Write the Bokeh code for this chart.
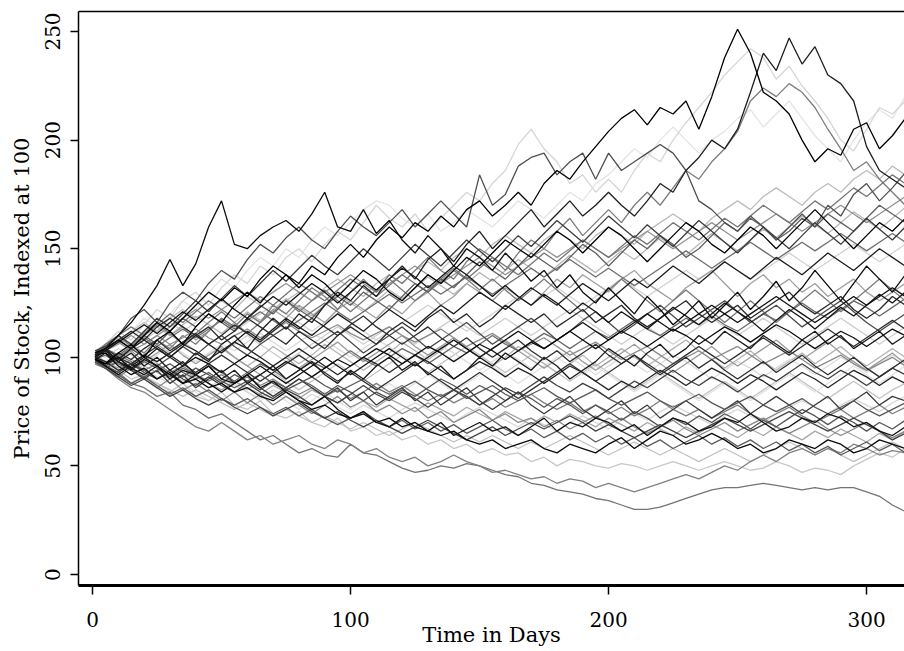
from bokeh.plotting import figure
from bokeh.models import ColumnDataSource, LinearAxis, FixedTicker, Range1d
from bokeh.embed import file_html
from bokeh.resources import INLINE

DAYS = [1] + list(range(5, 320, 5))

X_TICKS = [0, 100, 200, 300]
Y_TICKS = [0, 50, 100, 150, 200, 250]
X_TITLE = "Time in Days"
Y_TITLE = "Price of Stock, Indexed at 100"

# ---- central mass of paths ----
m01 = [101, 104, 98, 102, 96, 100, 94, 98, 92, 96, 90, 94, 88, 92, 96, 90,
       94, 98, 92, 88, 94, 90, 96, 100, 94, 98, 92, 96, 90, 94, 100, 96,
       102, 98, 94, 100, 96, 90, 94, 98, 104, 100, 96, 102, 106, 100, 104, 110,
       106, 112, 108, 104, 110, 106, 102, 108, 112, 106, 110, 104, 108, 112, 106, 110]
m02 = [102, 106, 110, 106, 112, 116, 110, 114, 108, 112, 118, 114, 120, 116, 122, 118,
       124, 120, 116, 122, 126, 122, 118, 124, 120, 126, 130, 124, 128, 134, 130, 126,
       132, 128, 124, 130, 136, 132, 138, 134, 130, 136, 140, 134, 130, 126, 132, 136,
       140, 134, 128, 134, 138, 132, 136, 130, 134, 128, 132, 136, 130, 126, 130, 134]
m03 = [99, 96, 100, 94, 90, 94, 88, 92, 86, 90, 94, 88, 92, 86, 82, 86,
       90, 86, 82, 86, 80, 84, 78, 82, 86, 80, 84, 78, 82, 86, 80, 76,
       80, 84, 78, 74, 78, 82, 76, 72, 76, 80, 74, 78, 72, 76, 80, 76,
       72, 76, 80, 74, 78, 82, 78, 74, 78, 82, 76, 80, 84, 78, 82, 80]
m04 = [101, 103, 108, 104, 110, 106, 112, 118, 114, 120, 116, 112, 118, 124, 120, 126,
       122, 118, 124, 128, 124, 130, 126, 122, 128, 134, 130, 136, 132, 138, 144, 140,
       136, 142, 148, 144, 140, 146, 152, 148, 142, 148, 154, 150, 156, 152, 146, 150,
       156, 162, 158, 164, 160, 154, 158, 164, 160, 166, 162, 158, 164, 170, 166, 162]
m05 = [98, 97, 93, 97, 101, 97, 93, 89, 93, 97, 93, 89, 85, 89, 93, 89,
       85, 89, 93, 97, 93, 89, 93, 97, 101, 97, 93, 97, 101, 105, 101, 97,
       93, 97, 101, 97, 93, 89, 93, 97, 93, 89, 85, 89, 93, 89, 85, 81,
       85, 89, 85, 81, 85, 89, 93, 89, 85, 81, 85, 89, 85, 81, 85, 88]
m06 = [100, 104, 108, 112, 108, 114, 118, 114, 110, 114, 108, 112, 118, 114, 110, 106,
       112, 108, 104, 110, 114, 110, 106, 112, 116, 112, 118, 122, 116, 120, 114, 118,
       124, 120, 116, 120, 114, 118, 122, 116, 120, 124, 118, 114, 118, 122, 126, 120,
       116, 120, 124, 118, 122, 126, 130, 124, 120, 124, 128, 122, 118, 122, 128, 124]
m07 = [97, 95, 91, 95, 90, 86, 90, 85, 88, 84, 80, 84, 79, 83, 78, 82,
       78, 74, 78, 82, 77, 80, 75, 78, 74, 77, 72, 75, 70, 73, 76, 71,
       74, 70, 72, 68, 71, 67, 70, 73, 69, 72, 68, 65, 68, 71, 67, 64,
       67, 70, 66, 69, 72, 68, 65, 68, 71, 67, 64, 67, 70, 66, 63, 66]
m08 = [100, 103, 99, 104, 100, 96, 100, 105, 101, 106, 110, 105, 101, 106, 110, 114,
       109, 104, 108, 112, 107, 102, 106, 110, 114, 109, 104, 108, 112, 116, 111, 106,
       110, 114, 118, 113, 108, 112, 117, 121, 116, 111, 115, 120, 124, 119, 114, 118,
       122, 126, 121, 116, 120, 124, 119, 114, 118, 122, 126, 121, 116, 112, 116, 120]
m09 = [102, 104, 100, 105, 110, 106, 102, 107, 103, 99, 104, 100, 96, 100, 105, 101,
       97, 101, 106, 102, 98, 94, 98, 102, 107, 103, 99, 103, 108, 104, 100, 96,
       100, 105, 101, 97, 93, 97, 101, 96, 100, 104, 100, 96, 100, 104, 108, 103,
       99, 95, 99, 103, 98, 94, 98, 102, 97, 101, 105, 100, 96, 100, 104, 100]
m10 = [99, 96, 92, 96, 100, 96, 92, 88, 92, 88, 84, 88, 92, 96, 92, 88,
       92, 96, 100, 96, 92, 96, 100, 104, 100, 96, 100, 104, 108, 104, 100, 104,
       108, 112, 108, 104, 108, 112, 116, 112, 108, 112, 116, 120, 116, 112, 116, 120,
       124, 120, 116, 120, 124, 128, 124, 120, 116, 120, 124, 128, 124, 128, 132, 128]
m11 = [103, 104, 108, 104, 108, 112, 116, 112, 116, 120, 116, 112, 116, 120, 124, 120,
       116, 112, 116, 120, 116, 112, 108, 112, 116, 120, 124, 120, 116, 112, 116, 120,
       124, 128, 124, 128, 132, 128, 124, 128, 132, 136, 132, 128, 132, 136, 140, 136,
       140, 144, 140, 136, 140, 144, 148, 144, 140, 144, 148, 152, 148, 144, 148, 152]
m12 = [98, 96, 93, 97, 94, 90, 94, 91, 95, 92, 88, 92, 89, 85, 89, 86,
       90, 87, 83, 87, 84, 80, 84, 81, 85, 82, 86, 90, 87, 83, 87, 84,
       80, 84, 81, 77, 81, 78, 74, 78, 75, 71, 75, 72, 68, 72, 69, 73,
       70, 74, 71, 67, 71, 68, 72, 76, 73, 69, 73, 70, 66, 70, 67, 71]
m13 = [101, 105, 110, 105, 111, 116, 111, 106, 111, 116, 121, 116, 111, 116, 121, 126,
       121, 126, 131, 126, 121, 126, 131, 136, 131, 126, 131, 136, 141, 136, 131, 136,
       131, 126, 131, 136, 131, 126, 121, 126, 131, 136, 131, 126, 121, 126, 131, 126,
       121, 116, 121, 126, 121, 116, 121, 126, 131, 126, 121, 126, 131, 136, 131, 126]
m14 = [99, 96, 92, 88, 92, 88, 84, 88, 84, 80, 84, 88, 84, 80, 84, 80,
       76, 80, 84, 80, 76, 80, 84, 88, 84, 88, 92, 88, 84, 88, 92, 96,
       92, 88, 92, 96, 100, 96, 92, 96, 92, 88, 84, 88, 92, 88, 84, 80,
       84, 88, 84, 80, 84, 88, 92, 88, 84, 88, 92, 96, 92, 88, 92, 96]
m15 = [100, 104, 100, 97, 101, 105, 101, 97, 93, 97, 101, 97, 93, 89, 93, 97,
       101, 97, 93, 89, 93, 89, 85, 89, 93, 97, 93, 89, 85, 89, 93, 89,
       85, 81, 85, 89, 93, 97, 93, 89, 93, 97, 101, 97, 93, 97, 101, 105,
       101, 97, 101, 105, 109, 105, 101, 105, 109, 113, 109, 105, 109, 113, 117, 113]
m16 = [102, 103, 106, 110, 106, 110, 114, 118, 122, 118, 122, 126, 130, 126, 130, 134,
       130, 126, 130, 134, 138, 134, 130, 134, 138, 142, 138, 134, 138, 142, 146, 142,
       138, 142, 146, 150, 146, 150, 154, 150, 146, 150, 154, 158, 154, 150, 154, 158,
       162, 158, 154, 158, 162, 166, 162, 158, 162, 166, 170, 166, 162, 166, 170, 174]
m17 = [98, 96, 92, 88, 91, 87, 83, 86, 82, 85, 81, 78, 81, 77, 74, 77,
       73, 76, 72, 69, 72, 75, 71, 68, 71, 67, 70, 66, 69, 65, 68, 71,
       67, 64, 67, 63, 66, 62, 65, 61, 64, 60, 63, 59, 62, 58, 61, 64,
       60, 63, 59, 62, 58, 61, 57, 60, 56, 59, 55, 58, 61, 57, 60, 56]
m18 = [101, 104, 108, 112, 116, 112, 118, 122, 118, 122, 126, 122, 128, 124, 120, 126,
       130, 126, 132, 136, 132, 128, 134, 138, 134, 140, 144, 140, 146, 150, 146, 152,
       156, 152, 148, 154, 158, 154, 150, 156, 160, 156, 152, 158, 162, 166, 162, 158,
       164, 168, 172, 168, 174, 178, 174, 170, 176, 180, 176, 182, 186, 182, 188, 184]
m19 = [100, 98, 94, 97, 101, 98, 102, 106, 103, 99, 103, 107, 104, 100, 96, 100,
       104, 100, 96, 92, 96, 100, 97, 93, 97, 101, 98, 94, 90, 94, 98, 95,
       91, 95, 92, 88, 92, 96, 93, 89, 85, 89, 86, 90, 94, 91, 87, 91,
       95, 92, 88, 92, 89, 85, 89, 93, 90, 86, 90, 94, 91, 87, 91, 88]
m20 = [99, 104, 101, 105, 109, 105, 109, 113, 109, 113, 117, 113, 117, 121, 117, 113,
       117, 121, 125, 121, 117, 121, 125, 129, 125, 129, 133, 129, 133, 137, 133, 129,
       133, 137, 141, 137, 141, 145, 141, 137, 141, 137, 133, 137, 141, 145, 149, 145,
       141, 145, 149, 153, 149, 145, 149, 153, 149, 153, 157, 153, 149, 153, 157, 153]
m21 = [97, 97, 94, 98, 95, 91, 88, 92, 89, 86, 90, 87, 84, 81, 85, 82,
       79, 83, 80, 77, 74, 78, 75, 72, 76, 79, 76, 73, 70, 74, 77, 74,
       71, 68, 72, 69, 66, 70, 73, 70, 67, 71, 74, 71, 75, 78, 75, 72,
       69, 73, 76, 73, 70, 74, 77, 80, 77, 74, 78, 81, 78, 75, 79, 82]
m22 = [103, 105, 110, 106, 112, 118, 114, 120, 126, 121, 127, 133, 128, 134, 140, 135,
       141, 147, 142, 138, 144, 150, 145, 140, 146, 152, 147, 142, 148, 154, 149, 144,
       150, 156, 151, 157, 163, 158, 153, 159, 165, 160, 155, 161, 156, 151, 157, 163,
       158, 153, 148, 154, 160, 155, 150, 156, 162, 157, 152, 158, 164, 159, 154, 160]
m23 = [98, 95, 99, 103, 98, 102, 106, 101, 97, 101, 105, 100, 96, 92, 96, 100,
       95, 99, 103, 107, 102, 98, 102, 106, 110, 105, 101, 105, 109, 104, 100, 104,
       108, 103, 99, 95, 99, 103, 98, 94, 98, 102, 106, 101, 97, 93, 97, 101,
       105, 100, 96, 100, 104, 108, 103, 99, 103, 107, 102, 98, 94, 98, 102, 97]
m24 = [101, 103, 107, 111, 115, 111, 116, 121, 117, 122, 127, 122, 118, 123, 128, 124,
       129, 134, 130, 125, 130, 135, 131, 136, 141, 137, 132, 137, 142, 138, 133, 128,
       133, 128, 124, 129, 125, 120, 125, 121, 116, 121, 117, 113, 118, 123, 119, 115,
       120, 125, 121, 117, 112, 117, 122, 118, 113, 118, 123, 119, 124, 129, 125, 130]
m25 = [99, 97, 101, 98, 94, 97, 93, 96, 92, 89, 92, 88, 91, 87, 90, 86,
       83, 86, 82, 85, 81, 84, 88, 84, 87, 83, 80, 83, 79, 82, 78, 81,
       77, 80, 83, 79, 76, 79, 75, 78, 74, 77, 73, 76, 80, 76, 73, 76,
       72, 75, 78, 74, 71, 74, 77, 73, 70, 73, 76, 72, 75, 78, 74, 77]
m26 = [102, 104, 108, 104, 110, 116, 112, 118, 124, 130, 126, 132, 128, 136, 142, 138,
       132, 138, 134, 128, 134, 140, 136, 130, 126, 132, 138, 134, 140, 146, 142, 148,
       154, 150, 146, 152, 158, 154, 148, 154, 160, 156, 150, 144, 150, 156, 162, 158,
       152, 148, 154, 160, 156, 150, 156, 162, 168, 162, 156, 150, 156, 162, 158, 164]
m27 = [100, 98, 102, 106, 102, 98, 102, 106, 110, 106, 102, 106, 110, 106, 102, 98,
       102, 106, 110, 114, 110, 106, 110, 114, 110, 106, 110, 114, 118, 114, 110, 114,
       118, 114, 110, 114, 118, 122, 118, 114, 110, 106, 110, 114, 110, 106, 110, 114,
       118, 114, 110, 114, 118, 114, 110, 106, 110, 114, 118, 114, 110, 106, 110, 114]
m28 = [98, 95, 91, 87, 90, 86, 82, 85, 81, 78, 81, 77, 74, 77, 73, 76,
       79, 75, 72, 75, 71, 68, 71, 68, 65, 68, 71, 68, 65, 62, 65, 68,
       64, 67, 70, 67, 70, 73, 70, 66, 69, 66, 63, 66, 69, 66, 63, 66,
       69, 72, 69, 66, 69, 72, 75, 72, 69, 66, 69, 72, 69, 66, 62, 65]
m29 = [100, 97, 102, 99, 104, 108, 103, 107, 111, 106, 110, 115, 111, 107, 112, 117,
       113, 118, 114, 110, 115, 119, 114, 110, 106, 110, 114, 109, 105, 109, 104, 100,
       104, 108, 103, 99, 103, 98, 102, 106, 101, 97, 101, 96, 92, 96, 100, 95,
       99, 94, 90, 94, 98, 93, 97, 101, 96, 92, 96, 100, 95, 91, 95, 99]
m30 = [99, 101, 97, 94, 98, 95, 91, 95, 92, 96, 93, 89, 93, 97, 94, 90,
       94, 98, 95, 99, 103, 99, 96, 100, 104, 101, 97, 101, 105, 102, 106, 110,
       106, 103, 107, 111, 108, 104, 108, 112, 109, 113, 117, 113, 110, 114, 118, 115,
       119, 115, 112, 116, 120, 117, 121, 125, 121, 118, 122, 126, 123, 119, 123, 127]
m31 = [101, 98, 95, 99, 96, 93, 90, 94, 91, 88, 85, 89, 86, 83, 87, 84,
       81, 85, 82, 79, 83, 80, 77, 81, 78, 75, 79, 76, 73, 77, 74, 71,
       75, 72, 69, 73, 70, 74, 71, 68, 72, 69, 66, 70, 67, 64, 68, 65,
       69, 66, 63, 67, 64, 68, 65, 62, 66, 63, 67, 64, 61, 65, 62, 66]
m32 = [100, 103, 99, 104, 108, 104, 100, 105, 110, 106, 102, 107, 112, 108, 113, 118,
       114, 110, 115, 120, 116, 112, 117, 122, 118, 114, 119, 124, 120, 125, 130, 126,
       122, 127, 132, 128, 124, 129, 134, 130, 126, 131, 136, 132, 137, 142, 138, 134,
       139, 144, 140, 136, 141, 146, 142, 138, 143, 148, 144, 140, 145, 150, 146, 142]
m33 = [102, 100, 104, 101, 97, 101, 105, 102, 98, 102, 106, 103, 107, 111, 107, 103,
       107, 111, 108, 104, 100, 104, 108, 105, 101, 97, 101, 105, 102, 98, 94, 98,
       102, 99, 95, 99, 103, 100, 96, 92, 96, 100, 97, 93, 97, 101, 98, 94,
       90, 94, 98, 95, 91, 95, 99, 96, 92, 96, 100, 97, 93, 97, 101, 98]
m34 = [98, 95, 98, 94, 91, 94, 97, 93, 90, 93, 89, 86, 89, 92, 88, 85,
       88, 91, 87, 84, 87, 90, 86, 83, 86, 89, 85, 82, 85, 81, 84, 87,
       83, 80, 83, 86, 82, 79, 82, 85, 81, 78, 81, 84, 80, 77, 80, 83,
       79, 76, 79, 82, 78, 75, 78, 81, 77, 74, 77, 80, 76, 73, 76, 79]
m35 = [100, 104, 107, 103, 106, 110, 106, 109, 113, 109, 106, 110, 113, 109, 112, 116,
       112, 109, 112, 115, 111, 108, 111, 114, 110, 107, 110, 113, 109, 105, 108, 111,
       107, 103, 106, 109, 105, 101, 104, 107, 103, 99, 102, 105, 101, 97, 100, 103,
       99, 102, 105, 101, 97, 100, 103, 99, 95, 98, 101, 97, 94, 97, 100, 96]
m36 = [99, 102, 98, 95, 99, 96, 92, 96, 100, 97, 93, 97, 101, 98, 94, 98,
       95, 91, 95, 99, 96, 100, 104, 101, 97, 101, 105, 102, 98, 102, 106, 103,
       99, 103, 107, 104, 108, 112, 108, 104, 108, 112, 109, 105, 109, 113, 110, 106,
       110, 114, 111, 107, 111, 115, 112, 108, 104, 108, 112, 109, 105, 109, 113, 110]
m37 = [101, 105, 109, 105, 110, 114, 110, 115, 119, 115, 111, 116, 121, 117, 122, 127,
       123, 119, 124, 129, 125, 121, 126, 131, 127, 132, 137, 133, 129, 134, 139, 135,
       140, 145, 141, 137, 142, 147, 143, 139, 144, 149, 145, 150, 155, 151, 147, 152,
       157, 153, 149, 154, 159, 155, 160, 165, 161, 157, 162, 167, 163, 159, 164, 169]
m38 = [100, 96, 93, 97, 93, 90, 94, 90, 87, 91, 87, 84, 88, 84, 81, 85,
       82, 78, 82, 79, 83, 87, 83, 80, 84, 81, 77, 81, 85, 82, 78, 82,
       86, 83, 87, 91, 87, 84, 88, 85, 81, 85, 89, 86, 90, 94, 90, 87,
       91, 88, 84, 88, 92, 89, 93, 97, 93, 90, 94, 91, 87, 91, 95, 92]
m39 = [102, 106, 110, 114, 110, 115, 120, 116, 121, 126, 122, 118, 123, 128, 124, 129,
       134, 130, 126, 131, 136, 132, 128, 133, 138, 134, 130, 135, 140, 136, 141, 146,
       142, 138, 143, 148, 144, 149, 154, 150, 146, 151, 156, 152, 157, 162, 158, 154,
       159, 164, 160, 165, 170, 166, 162, 167, 172, 168, 173, 178, 174, 179, 184, 180]
m40 = [98, 95, 92, 88, 91, 88, 85, 82, 85, 82, 79, 76, 79, 76, 73, 76,
       73, 70, 73, 70, 67, 70, 67, 64, 67, 70, 67, 64, 61, 64, 61, 64,
       61, 58, 61, 58, 61, 64, 61, 58, 55, 58, 61, 58, 55, 58, 55, 52,
       55, 58, 55, 52, 55, 58, 61, 58, 55, 58, 55, 52, 55, 58, 61, 58]

# ---- low outlying paths ----
lo1 = [98, 96, 93, 88, 86, 82, 84, 78, 76, 72, 74, 70, 66, 62, 64, 60,
       56, 58, 55, 54, 60, 56, 55, 52, 49, 47, 48, 50, 49, 51, 50, 48,
       46, 45, 42, 41, 39, 38, 37, 35, 34, 32, 30, 30, 31, 33, 35, 37,
       39, 40, 40, 41, 42, 41, 40, 39, 40, 39, 40, 40, 38, 36, 32, 29]
lo2 = [97, 95, 90, 86, 84, 80, 76, 72, 68, 66, 70, 66, 62, 64, 60, 62,
       64, 60, 58, 62, 60, 56, 58, 54, 52, 54, 50, 52, 55, 52, 50, 47,
       48, 46, 44, 45, 42, 44, 43, 40, 42, 40, 38, 40, 42, 44, 46, 44,
       47, 50, 48, 52, 55, 52, 56, 58, 55, 58, 56, 60, 58, 55, 57, 56]
lo3 = [100, 98, 94, 90, 92, 86, 84, 88, 82, 80, 84, 78, 76, 80, 74, 72,
       75, 70, 68, 72, 66, 68, 64, 66, 62, 64, 60, 62, 58, 60, 56, 58,
       55, 56, 52, 54, 50, 53, 52, 50, 49, 51, 50, 48, 50, 52, 50, 48,
       50, 52, 50, 48, 49, 52, 50, 47, 49, 48, 46, 50, 53, 56, 54, 58]
lo4 = [101, 102, 96, 92, 95, 90, 93, 88, 90, 86, 88, 84, 86, 82, 80, 84,
       80, 76, 78, 74, 72, 74, 70, 72, 68, 70, 66, 64, 66, 62, 60, 62,
       58, 60, 62, 58, 56, 60, 58, 56, 60, 63, 58, 62, 66, 64, 60, 62,
       65, 62, 58, 60, 56, 58, 62, 60, 58, 62, 60, 56, 58, 62, 60, 58]
lo5 = [99, 97, 100, 95, 92, 96, 90, 94, 92, 96, 90, 88, 92, 86, 89, 84,
       80, 78, 82, 76, 72, 75, 70, 68, 72, 68, 66, 70, 64, 67, 70, 66,
       68, 64, 68, 72, 66, 70, 68, 72, 70, 66, 69, 64, 68, 72, 70, 66,
       68, 72, 70, 74, 70, 66, 68, 72, 70, 74, 72, 68, 70, 66, 64, 68]

# ---- high outlying paths ----
hi1 = [102, 104, 110, 116, 124, 133, 145, 133, 143, 160, 172, 152, 150, 156, 160, 163,
       158, 166, 176, 160, 158, 168, 157, 163, 154, 148, 156, 150, 142, 150, 146, 140,
       148, 142, 135, 140, 132, 138, 130, 125, 132, 126, 120, 128, 122, 115, 120, 126,
       118, 124, 130, 122, 128, 135, 126, 132, 140, 133, 126, 134, 142, 136, 130, 138]
hi2 = [99, 97, 102, 106, 100, 108, 112, 106, 114, 120, 116, 124, 130, 125, 132, 138,
       134, 142, 138, 146, 152, 146, 154, 160, 155, 162, 158, 165, 160, 168, 172, 165,
       170, 176, 170, 180, 186, 182, 190, 197, 204, 210, 214, 207, 215, 212, 218, 205,
       220, 238, 251, 240, 222, 218, 212, 200, 190, 196, 193, 205, 208, 196, 202, 210]
hi3 = [101, 103, 98, 94, 99, 104, 100, 96, 102, 98, 106, 110, 104, 112, 118, 113,
       120, 116, 124, 130, 126, 133, 128, 136, 142, 136, 145, 150, 144, 152, 158, 150,
       156, 162, 168, 160, 166, 172, 165, 170, 176, 170, 165, 172, 180, 176, 186, 192,
       200, 196, 205, 222, 240, 232, 247, 235, 243, 230, 226, 218, 197, 186, 182, 178]
hi4 = [103, 106, 112, 108, 115, 122, 118, 126, 130, 124, 132, 138, 134, 142, 138, 146,
       150, 144, 152, 158, 154, 162, 170, 164, 160, 166, 158, 164, 170, 176, 172, 180,
       186, 198, 205, 196, 190, 180, 184, 176, 182, 176, 186, 194, 190, 200, 208, 215,
       222, 230, 236, 242, 238, 228, 234, 225, 218, 210, 200, 195, 205, 215, 212, 218]
hi5 = [101, 104, 110, 118, 122, 116, 125, 130, 126, 134, 140, 136, 145, 152, 148, 155,
       160, 154, 150, 158, 165, 160, 156, 162, 168, 160, 166, 172, 166, 160, 184, 170,
       175, 188, 192, 194, 184, 190, 194, 182, 194, 186, 190, 194, 198, 194, 186, 172,
       168, 162, 158, 165, 160, 154, 160, 166, 160, 170, 165, 175, 180, 172, 178, 185]
hi6 = [98, 96, 100, 105, 102, 108, 104, 110, 106, 112, 118, 114, 120, 116, 124, 120,
       126, 132, 128, 122, 130, 136, 130, 138, 134, 140, 146, 140, 136, 144, 150, 146,
       140, 148, 154, 150, 158, 164, 156, 162, 168, 162, 170, 176, 170, 178, 186, 182,
       190, 196, 204, 218, 224, 220, 226, 222, 215, 205, 196, 186, 190, 182, 176, 170]
hi7 = [102, 103, 108, 112, 118, 114, 120, 126, 122, 130, 136, 132, 140, 146, 142, 150,
       146, 154, 160, 156, 162, 168, 172, 170, 164, 160, 166, 158, 162, 168, 164, 160,
       166, 172, 168, 164, 170, 176, 172, 180, 184, 190, 196, 192, 200, 206, 200, 194,
       200, 204, 210, 214, 206, 212, 218, 210, 202, 196, 190, 200, 208, 214, 210, 220]

# drawing order: lighter / mid paths first, dark outliers last
SERIES = [m05, m11, m14, m27, m21, m09, m18, lo3, hi7, hi4, m33, m37, m40, m31,
          m02, m16, m23, m07, m25, m13, m20, lo1, lo2, hi6, m35, m39, m30,
          m04, m08, m12, m17, m28, hi5, m03, m15, m19, m22, m34, m38,
          m06, m24, m10, m26, m01, m29, m32, m36, lo4, lo5, hi1, hi3, hi2]
COLORS = ["#c4c4c4", "#d2d2d2", "#e2e2e2", "#cecece", "#d8d8d8", "#b4b4b4", "#bcbcbc", "#c8c8c8", "#e4e4e4", "#d6d6d6", "#dcdcdc", "#b8b8b8", "#c0c0c0", "#a8a8a8",
          "#a0a0a0", "#929292", "#9c9c9c", "#888888", "#808080", "#7a7a7a", "#6e6e6e", "#747474", "#828282", "#7c7c7c", "#8c8c8c", "#767676", "#6a6a6a",
          "#606060", "#4a4a4a", "#555555", "#5c5c5c", "#464646", "#505050", "#3a3a3a", "#303030", "#242424", "#3c3c3c", "#585858", "#404040",
          "#282828", "#141414", "#101010", "#000000", "#1a1a1a", "#2e2e2e", "#1c1c1c", "#0e0e0e", "#0a0a0a", "#111111", "#0c0c0c", "#1e1e1e", "#000000"]

src = ColumnDataSource(dict(xs=[DAYS] * len(SERIES), ys=SERIES, color=COLORS))

p = figure(width=904, height=651, output_backend="svg", toolbar_location=None,
           x_range=Range1d(-5.43, 314.7), y_range=Range1d(-5.06, 259.2),
           x_axis_location=None, y_axis_location=None,
           min_border_left=78, min_border_right=0, min_border_top=11, min_border_bottom=66)
p.outline_line_color = None
p.background_fill_color = "white"
p.border_fill_color = "white"
p.xgrid.visible = False
p.ygrid.visible = False

p.multi_line(xs="xs", ys="ys", line_color="color", line_width=1.3, source=src)

FONT = "DejaVu Serif"

xaxis = LinearAxis(ticker=FixedTicker(ticks=X_TICKS), axis_label=X_TITLE)
xaxis.axis_line_width = 3
xaxis.axis_line_color = "black"
xaxis.major_tick_out = 9
xaxis.major_tick_in = 0
xaxis.major_tick_line_width = 1.5
xaxis.minor_tick_line_color = None
xaxis.major_label_text_font = FONT
xaxis.major_label_text_font_size = "20px"
xaxis.major_label_text_color = "black"
xaxis.major_label_standoff = 17
xaxis.axis_label_text_font = FONT
xaxis.axis_label_text_font_size = "21px"
xaxis.axis_label_text_font_style = "normal"
xaxis.axis_label_text_color = "black"
xaxis.axis_label_standoff = -7
p.add_layout(xaxis, "below")

yaxis = LinearAxis(ticker=FixedTicker(ticks=Y_TICKS), axis_label=Y_TITLE)
yaxis.axis_line_width = 1.5
yaxis.axis_line_color = "black"
yaxis.major_tick_out = 8
yaxis.major_tick_in = 0
yaxis.major_tick_line_width = 1.5
yaxis.minor_tick_line_color = None
yaxis.major_label_orientation = "vertical"
yaxis.major_label_text_font = FONT
yaxis.major_label_text_font_size = "20px"
yaxis.major_label_text_color = "black"
yaxis.major_label_standoff = 10
yaxis.axis_label_text_font = FONT
yaxis.axis_label_text_font_size = "21px"
yaxis.axis_label_text_font_style = "normal"
yaxis.axis_label_text_color = "black"
yaxis.axis_label_standoff = 9
p.add_layout(yaxis, "left")

top = LinearAxis(ticker=FixedTicker(ticks=[]))
top.axis_line_width = 1.5
top.axis_line_color = "black"
top.major_tick_out = 0
top.major_tick_in = 0
top.minor_tick_line_color = None
top.major_label_standoff = 0
top.major_label_text_font_size = "0px"
p.add_layout(top, "above")

open("out.html", "w").write(file_html(p, INLINE))
